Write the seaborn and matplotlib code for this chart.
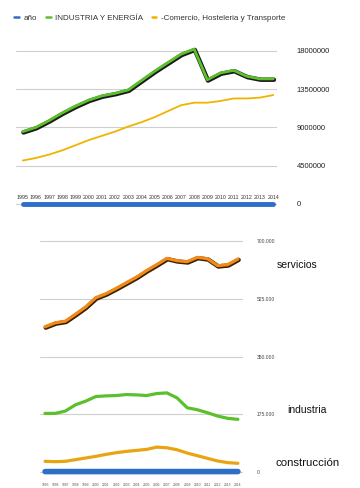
import numpy as np
import pandas as pd
import matplotlib
matplotlib.use("Agg")
import matplotlib.pyplot as plt
import matplotlib.patheffects as pe
import seaborn as sns

# ---------------- data ----------------
years = list(range(1995, 2015))

# top chart (euros)
industria_energia = [8.5e6, 9.0e6, 9.8e6, 10.7e6, 11.5e6, 12.2e6, 12.7e6, 13.0e6, 13.4e6, 14.5e6,
                     15.6e6, 16.6e6, 17.6e6, 18.2e6, 14.6e6, 15.4e6, 15.7e6, 15.0e6, 14.7e6, 14.7e6]
comercio = [5.1e6, 5.4e6, 5.8e6, 6.3e6, 6.9e6, 7.5e6, 8.0e6, 8.5e6, 9.1e6, 9.6e6,
            10.2e6, 10.9e6, 11.6e6, 11.9e6, 11.9e6, 12.1e6, 12.4e6, 12.4e6, 12.5e6, 12.8e6]
top_yticks = [0, 4500000, 9000000, 13500000, 18000000]
top_ylabels = ["0", "4500000", "9000000", "13500000", "18000000"]
top_legend = ["año", "INDUSTRIA Y ENERGÍA", "-Comercio, Hosteleria y Transporte"]

# bottom chart
servicios = [440e3, 452e3, 457e3, 478e3, 500e3, 528e3, 540e3, 556e3, 573e3, 590e3,
             610e3, 628e3, 647e3, 640e3, 637e3, 650e3, 646e3, 625e3, 628e3, 645e3]
industria = [178e3, 178e3, 185e3, 204e3, 215e3, 229e3, 231e3, 232e3, 235e3, 234e3,
             232e3, 238e3, 240e3, 225e3, 195e3, 189e3, 180e3, 170e3, 163e3, 160e3]
construccion = [33e3, 32e3, 33e3, 38e3, 43e3, 48e3, 54e3, 59e3, 63e3, 66e3,
                69e3, 76e3, 74e3, 68e3, 58e3, 50e3, 42e3, 34e3, 29e3, 27e3]
bot_yticks = [0, 175000, 350000, 525000, 700000]
bot_ylabels = ["0", "175.000", "350.000", "525.000", "700.000"]
bot_names = ["servicios", "industria", "construcción"]

# ---------------- frames ----------------
top_df = pd.DataFrame({
    "year": years * 3,
    "value": [float(y) for y in years] + industria_energia + comercio,
    "serie": [top_legend[0]] * 20 + [top_legend[1]] * 20 + [top_legend[2]] * 20,
})
bot_df = pd.DataFrame({
    "year": years * 4,
    "value": [float(y) for y in years] + servicios + industria + construccion,
    "serie": ["año"] * 20 + bot_names[:1] * 20 + bot_names[1:2] * 20 + bot_names[2:] * 20,
})

sns.set_theme(style="white")
plt.rcParams["font.family"] = ["Liberation Sans", "DejaVu Sans"]

fig = plt.figure(figsize=(3.6, 4.88), dpi=100)
ax1 = fig.add_axes([0.045, 0.570, 0.725, 0.352])
ax2 = fig.add_axes([0.111, 0.012, 0.564, 0.508])

BLUE = "#2e6ec9"
GREEN = "#5cc02c"
YELLOW = "#f0b400"
ORANGE = "#f28a1a"
CONSTR = "#e9a412"
GRID = "#cfcfcf"

shadow = [pe.Stroke(linewidth=3.2, foreground="#1a1a1a", offset=(0.5, -0.6)), pe.Normal()]

# ---- top chart ----
palette_top = {top_legend[0]: BLUE, top_legend[1]: GREEN, top_legend[2]: YELLOW}
for s in top_legend:
    d = top_df[top_df.serie == s]
    lw = 3.5 if s == "año" else (2.0 if s == top_legend[1] else 1.3)
    sns.lineplot(data=d, x="year", y="value", ax=ax1, color=palette_top[s],
                 linewidth=lw, legend=False)
    line = ax1.lines[-1]
    line.set_clip_on(False)
    if s == top_legend[1]:
        line.set_path_effects(shadow)

ax1.set_xlim(1994.5, 2014.3)
ax1.set_ylim(-0.7e6, 19.5e6)
ax1.set_yticks(top_yticks)
ax1.set_yticklabels(top_ylabels)
ax1.yaxis.tick_right()
ax1.tick_params(axis="y", length=0, pad=14, labelsize=5.5, colors="#222222")
ax1.set_xticks(years)
ax1.set_xticklabels([str(y) for y in years])
ax1.tick_params(axis="x", length=0, pad=-11, labelsize=3.8, colors="#333333")
ax1.grid(axis="y", color=GRID, linewidth=0.8)
ax1.set_axisbelow(True)
for sp in ax1.spines.values():
    sp.set_visible(False)
ax1.set_xlabel("")
ax1.set_ylabel("")

handles = [plt.Line2D([], [], color=palette_top[s], linewidth=1.8) for s in top_legend]
fig.legend(handles, top_legend, loc="upper left", bbox_to_anchor=(0.02, 0.985), ncol=3,
           fontsize=5.8, frameon=False, handlelength=0.6, handletextpad=0.6,
           columnspacing=1.0, labelcolor="#333333")

# ---- bottom chart ----
palette_bot = {"año": BLUE, "servicios": ORANGE, "industria": GREEN, "construcción": CONSTR}
for s in ["año"] + bot_names:
    d = bot_df[bot_df.serie == s]
    lw = 4.0 if s == "año" else 2.3
    sns.lineplot(data=d, x="year", y="value", ax=ax2, color=palette_bot[s],
                 linewidth=lw, legend=False)
    line = ax2.lines[-1]
    line.set_clip_on(False)
    if s == "servicios":
        line.set_path_effects([pe.Stroke(linewidth=3.2, foreground="#3a2000", offset=(0.5, -0.6)),
                               pe.Normal()])

ax2.set_xlim(1994.5, 2014.5)
ax2.set_ylim(-30e3, 720e3)
ax2.set_yticks(bot_yticks)
ax2.set_yticklabels(bot_ylabels)
ax2.yaxis.tick_right()
ax2.tick_params(axis="y", length=0, pad=10, labelsize=3.6, colors="#444444")
ax2.set_xticks(years)
ax2.set_xticklabels([str(y) for y in years])
ax2.tick_params(axis="x", length=0, pad=0.5, labelsize=2.4, colors="#555555")
ax2.grid(axis="y", color=GRID, linewidth=0.8)
ax2.set_axisbelow(True)
for sp in ax2.spines.values():
    sp.set_visible(False)
ax2.set_xlabel("")
ax2.set_ylabel("")

# series labels on the right
fig.text(277 / 360, 1 - 265 / 488, "servicios", fontsize=7.5, va="center", ha="left", color="#111111")
fig.text(287 / 360, 1 - 410 / 488, "industria", fontsize=7.5, va="center", ha="left", color="#111111")
fig.text(275 / 360, 1 - 463 / 488, "construcción", fontsize=8.2, va="center", ha="left", color="#111111")

fig.savefig("out.png", dpi=100)
